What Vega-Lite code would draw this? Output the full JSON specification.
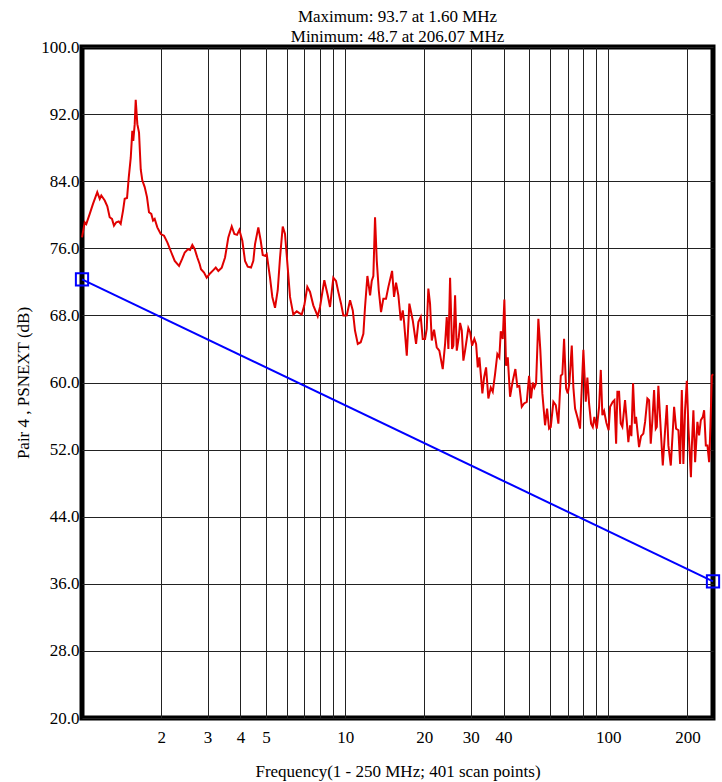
{
  "$schema": "https://vega.github.io/schema/vega-lite/v6.json",
  "width": 631,
  "height": 671,
  "autosize": {"type": "none"},
  "padding": {"left": 82, "top": 47, "right": 9, "bottom": 64},
  "background": "white",
  "config": {"view": {"stroke": "black", "strokeWidth": 5}, "font": "Liberation Serif"},
  "title": {
    "text": ["Maximum: 93.7 at 1.60 MHz", "Minimum: 48.7 at 206.07 MHz"],
    "anchor": "middle",
    "font": "Liberation Serif",
    "fontSize": 17,
    "fontWeight": "normal",
    "lineHeight": 20,
    "offset": -8,
    "color": "black"
  },
  "datasets": {
    "psnext": [
      {"f": 1.00, "db": 77.3}, {"f": 1.024, "db": 79.1}, {"f": 1.038, "db": 78.9}, {"f": 1.070, "db": 80.1},
      {"f": 1.101, "db": 81.3}, {"f": 1.143, "db": 82.7}, {"f": 1.168, "db": 81.9}, {"f": 1.184, "db": 82.3},
      {"f": 1.220, "db": 81.7}, {"f": 1.248, "db": 81.0}, {"f": 1.274, "db": 79.7}, {"f": 1.300, "db": 79.5},
      {"f": 1.323, "db": 78.7}, {"f": 1.350, "db": 79.1}, {"f": 1.379, "db": 79.2}, {"f": 1.403, "db": 78.9},
      {"f": 1.432, "db": 80.5}, {"f": 1.453, "db": 81.9}, {"f": 1.483, "db": 82.0}, {"f": 1.505, "db": 84.4},
      {"f": 1.532, "db": 86.8}, {"f": 1.553, "db": 90.0}, {"f": 1.566, "db": 88.8}, {"f": 1.586, "db": 90.8},
      {"f": 1.600, "db": 93.7}, {"f": 1.623, "db": 90.8}, {"f": 1.647, "db": 89.8}, {"f": 1.672, "db": 85.4},
      {"f": 1.695, "db": 84.1}, {"f": 1.731, "db": 83.3}, {"f": 1.766, "db": 82.1}, {"f": 1.797, "db": 80.3},
      {"f": 1.834, "db": 80.1}, {"f": 1.862, "db": 79.3}, {"f": 1.889, "db": 79.5}, {"f": 1.933, "db": 78.5},
      {"f": 1.992, "db": 77.7}, {"f": 2.050, "db": 77.5}, {"f": 2.110, "db": 76.7}, {"f": 2.185, "db": 75.5},
      {"f": 2.251, "db": 74.5}, {"f": 2.338, "db": 73.9}, {"f": 2.400, "db": 74.7}, {"f": 2.457, "db": 75.5},
      {"f": 2.529, "db": 75.9}, {"f": 2.574, "db": 75.8}, {"f": 2.626, "db": 76.4}, {"f": 2.682, "db": 75.9},
      {"f": 2.743, "db": 74.9}, {"f": 2.801, "db": 74.1}, {"f": 2.833, "db": 73.5}, {"f": 2.909, "db": 73.1},
      {"f": 2.978, "db": 72.5}, {"f": 3.066, "db": 73.0}, {"f": 3.156, "db": 73.4}, {"f": 3.223, "db": 73.7},
      {"f": 3.297, "db": 73.3}, {"f": 3.397, "db": 73.7}, {"f": 3.496, "db": 74.9}, {"f": 3.598, "db": 77.3},
      {"f": 3.707, "db": 78.6}, {"f": 3.793, "db": 77.7}, {"f": 3.883, "db": 77.6}, {"f": 3.962, "db": 78.2},
      {"f": 4.067, "db": 76.9}, {"f": 4.164, "db": 74.5}, {"f": 4.264, "db": 73.8}, {"f": 4.389, "db": 73.7},
      {"f": 4.478, "db": 74.5}, {"f": 4.545, "db": 76.5}, {"f": 4.678, "db": 78.5}, {"f": 4.777, "db": 76.9},
      {"f": 4.862, "db": 75.2}, {"f": 4.961, "db": 75.1}, {"f": 5.035, "db": 75.3}, {"f": 5.182, "db": 72.5},
      {"f": 5.288, "db": 70.2}, {"f": 5.414, "db": 68.9}, {"f": 5.544, "db": 71.0}, {"f": 5.657, "db": 74.9},
      {"f": 5.792, "db": 78.6}, {"f": 5.909, "db": 77.7}, {"f": 6.050, "db": 73.7}, {"f": 6.173, "db": 70.2},
      {"f": 6.354, "db": 68.1}, {"f": 6.546, "db": 68.5}, {"f": 6.679, "db": 68.3}, {"f": 6.839, "db": 68.1},
      {"f": 6.996, "db": 69.2}, {"f": 7.182, "db": 71.4}, {"f": 7.354, "db": 70.8}, {"f": 7.569, "db": 69.2},
      {"f": 7.866, "db": 67.9}, {"f": 8.026, "db": 69.0}, {"f": 8.334, "db": 72.2}, {"f": 8.586, "db": 70.4},
      {"f": 8.760, "db": 69.0}, {"f": 9.017, "db": 72.5}, {"f": 9.232, "db": 72.1}, {"f": 9.420, "db": 70.8},
      {"f": 9.648, "db": 69.4}, {"f": 9.844, "db": 68.0}, {"f": 10.14, "db": 68.0}, {"f": 10.44, "db": 69.8},
      {"f": 10.69, "db": 68.6}, {"f": 10.90, "db": 66.2}, {"f": 11.17, "db": 64.6}, {"f": 11.46, "db": 64.8},
      {"f": 11.73, "db": 65.8}, {"f": 11.90, "db": 69.0}, {"f": 12.15, "db": 72.7}, {"f": 12.44, "db": 70.4},
      {"f": 12.62, "db": 72.1}, {"f": 12.80, "db": 72.7}, {"f": 12.99, "db": 79.7}, {"f": 13.19, "db": 74.5},
      {"f": 13.42, "db": 71.0}, {"f": 13.69, "db": 68.4}, {"f": 13.97, "db": 70.0}, {"f": 14.30, "db": 70.0},
      {"f": 14.60, "db": 71.4}, {"f": 15.08, "db": 73.3}, {"f": 15.34, "db": 70.2}, {"f": 15.61, "db": 71.9},
      {"f": 15.93, "db": 70.4}, {"f": 16.27, "db": 67.4}, {"f": 16.56, "db": 68.6}, {"f": 16.75, "db": 67.2},
      {"f": 17.15, "db": 63.2}, {"f": 17.54, "db": 69.4}, {"f": 18.07, "db": 67.4}, {"f": 18.60, "db": 64.6},
      {"f": 18.98, "db": 67.2}, {"f": 19.38, "db": 67.8}, {"f": 19.72, "db": 65.2}, {"f": 20.12, "db": 65.2},
      {"f": 20.42, "db": 66.4}, {"f": 20.71, "db": 71.2}, {"f": 21.02, "db": 69.4}, {"f": 21.34, "db": 65.0},
      {"f": 21.77, "db": 66.3}, {"f": 22.29, "db": 64.2}, {"f": 22.80, "db": 63.8}, {"f": 23.49, "db": 61.6},
      {"f": 23.98, "db": 64.6}, {"f": 24.33, "db": 67.8}, {"f": 24.68, "db": 64.0}, {"f": 25.05, "db": 72.5},
      {"f": 25.49, "db": 64.0}, {"f": 25.78, "db": 64.4}, {"f": 26.17, "db": 70.4}, {"f": 26.56, "db": 63.8},
      {"f": 27.03, "db": 65.4}, {"f": 27.34, "db": 67.1}, {"f": 27.75, "db": 66.2}, {"f": 28.14, "db": 62.6},
      {"f": 28.56, "db": 63.8}, {"f": 28.99, "db": 65.2}, {"f": 29.39, "db": 66.5}, {"f": 29.84, "db": 66.0},
      {"f": 30.36, "db": 64.4}, {"f": 30.98, "db": 65.2}, {"f": 31.45, "db": 64.6}, {"f": 31.92, "db": 61.8},
      {"f": 32.37, "db": 63.0}, {"f": 32.77, "db": 61.0}, {"f": 33.23, "db": 58.7}, {"f": 33.73, "db": 60.6},
      {"f": 34.32, "db": 61.8}, {"f": 35.02, "db": 58.1}, {"f": 35.76, "db": 59.4}, {"f": 36.39, "db": 58.9},
      {"f": 37.13, "db": 61.0}, {"f": 37.88, "db": 63.4}, {"f": 38.55, "db": 63.0}, {"f": 39.03, "db": 66.1},
      {"f": 39.72, "db": 65.2}, {"f": 40.28, "db": 69.9}, {"f": 40.88, "db": 62.0}, {"f": 41.50, "db": 63.0},
      {"f": 42.34, "db": 58.3}, {"f": 43.35, "db": 60.2}, {"f": 44.35, "db": 61.6}, {"f": 45.13, "db": 59.5},
      {"f": 45.93, "db": 59.6}, {"f": 46.90, "db": 57.1}, {"f": 47.86, "db": 57.5}, {"f": 49.00, "db": 57.7},
      {"f": 50.00, "db": 60.8}, {"f": 50.88, "db": 58.1}, {"f": 51.65, "db": 60.0}, {"f": 52.37, "db": 59.4},
      {"f": 53.16, "db": 59.9}, {"f": 54.24, "db": 67.6}, {"f": 55.19, "db": 63.8}, {"f": 56.17, "db": 58.7},
      {"f": 57.51, "db": 54.9}, {"f": 58.53, "db": 56.9}, {"f": 59.57, "db": 54.5}, {"f": 60.46, "db": 54.7},
      {"f": 61.85, "db": 57.7}, {"f": 63.16, "db": 57.3}, {"f": 64.62, "db": 55.1}, {"f": 65.99, "db": 60.8},
      {"f": 66.92, "db": 61.0}, {"f": 67.92, "db": 65.2}, {"f": 69.12, "db": 59.3}, {"f": 70.16, "db": 58.7},
      {"f": 71.14, "db": 59.9}, {"f": 72.65, "db": 64.4}, {"f": 73.68, "db": 59.4}, {"f": 74.78, "db": 56.9},
      {"f": 76.57, "db": 55.7}, {"f": 78.12, "db": 54.5}, {"f": 80.42, "db": 63.9}, {"f": 82.12, "db": 57.7},
      {"f": 83.28, "db": 60.6}, {"f": 84.53, "db": 57.5}, {"f": 86.02, "db": 55.1}, {"f": 87.32, "db": 54.7},
      {"f": 88.55, "db": 55.9}, {"f": 90.43, "db": 54.5}, {"f": 92.27, "db": 57.1}, {"f": 93.65, "db": 61.5},
      {"f": 94.96, "db": 56.1}, {"f": 96.39, "db": 56.6}, {"f": 98.35, "db": 55.2}, {"f": 100.3, "db": 54.3},
      {"f": 101.6, "db": 57.1}, {"f": 104.0, "db": 57.7}, {"f": 105.5, "db": 57.9}, {"f": 107.1, "db": 52.7},
      {"f": 108.3, "db": 58.9}, {"f": 109.9, "db": 58.9}, {"f": 111.5, "db": 55.1}, {"f": 113.1, "db": 54.7},
      {"f": 115.8, "db": 57.9}, {"f": 117.6, "db": 55.3}, {"f": 119.2, "db": 52.9}, {"f": 121.0, "db": 54.9},
      {"f": 122.4, "db": 53.6}, {"f": 124.2, "db": 59.9}, {"f": 126.1, "db": 55.1}, {"f": 127.5, "db": 55.9},
      {"f": 129.0, "db": 54.3}, {"f": 130.9, "db": 52.3}, {"f": 133.2, "db": 53.6}, {"f": 135.9, "db": 53.9},
      {"f": 138.0, "db": 55.3}, {"f": 140.8, "db": 58.1}, {"f": 142.9, "db": 57.9}, {"f": 145.0, "db": 52.7},
      {"f": 147.1, "db": 55.5}, {"f": 149.3, "db": 59.1}, {"f": 151.5, "db": 54.5}, {"f": 152.9, "db": 54.7},
      {"f": 155.0, "db": 59.6}, {"f": 158.3, "db": 54.3}, {"f": 161.1, "db": 50.1}, {"f": 164.4, "db": 54.3},
      {"f": 166.9, "db": 57.3}, {"f": 169.2, "db": 52.5}, {"f": 172.8, "db": 50.1}, {"f": 175.9, "db": 54.3},
      {"f": 177.9, "db": 57.1}, {"f": 181.0, "db": 54.5}, {"f": 184.7, "db": 54.3}, {"f": 187.5, "db": 50.3},
      {"f": 190.3, "db": 59.1}, {"f": 192.9, "db": 50.3}, {"f": 195.8, "db": 56.7}, {"f": 198.8, "db": 60.2},
      {"f": 201.6, "db": 54.7}, {"f": 206.07, "db": 48.7}, {"f": 207.7, "db": 52.3}, {"f": 210.6, "db": 56.7},
      {"f": 213.8, "db": 50.5}, {"f": 218.1, "db": 55.3}, {"f": 221.4, "db": 53.7}, {"f": 224.7, "db": 55.5},
      {"f": 228.7, "db": 55.9}, {"f": 231.3, "db": 56.7}, {"f": 234.8, "db": 52.5}, {"f": 238.1, "db": 52.5},
      {"f": 241.7, "db": 50.5}, {"f": 244.4, "db": 54.7}, {"f": 247.4, "db": 60.8}, {"f": 250, "db": 61.0}
    ],
    "limit": [
      {"f": 1, "db": 72.3},
      {"f": 250, "db": 36.3}
    ]
  },
  "encoding": {
    "x": {
      "field": "f",
      "type": "quantitative",
      "scale": {"type": "log", "domain": [1, 250], "nice": false},
      "axis": {
        "title": "Frequency(1 - 250 MHz; 401 scan points)",
        "values": [2, 3, 4, 5, 6, 7, 8, 9, 10, 20, 30, 40, 50, 60, 70, 80, 90, 100, 200],
        "labelExpr": "indexof([2, 3, 4, 5, 10, 20, 30, 40, 100, 200], datum.value) >= 0 ? '' + datum.value : ''",
        "ticks": false,
        "domain": false,
        "grid": true,
        "gridColor": "#222222",
        "gridWidth": 1,
        "gridOpacity": 1,
        "labelFont": "Liberation Serif",
        "labelFontSize": 17,
        "labelColor": "black",
        "labelPadding": 11,
        "labelOverlap": false,
        "labelFlush": false,
        "titleFont": "Liberation Serif",
        "titleFontSize": 17,
        "titleFontWeight": "normal",
        "titleColor": "black",
        "titleY": 58,
        "titleBaseline": "alphabetic"
      }
    },
    "y": {
      "field": "db",
      "type": "quantitative",
      "scale": {"domain": [20, 100], "nice": false, "zero": false},
      "axis": {
        "title": "Pair 4 , PSNEXT (dB)",
        "values": [20, 28, 36, 44, 52, 60, 68, 76, 84, 92, 100],
        "format": ".1f",
        "ticks": false,
        "domain": false,
        "grid": true,
        "gridColor": "#222222",
        "gridWidth": 1,
        "gridOpacity": 1,
        "labelFont": "Liberation Serif",
        "labelFontSize": 17,
        "labelColor": "black",
        "labelPadding": 3,
        "labelOverlap": false,
        "labelFlush": false,
        "titleFont": "Liberation Serif",
        "titleFontSize": 17,
        "titleFontWeight": "normal",
        "titleColor": "black",
        "titleX": -54,
        "titleY": 335.5,
        "titleAngle": -90,
        "titleAlign": "center",
        "titleBaseline": "alphabetic"
      }
    }
  },
  "layer": [
    {
      "data": {"name": "psnext"},
      "mark": {"type": "line", "color": "#e00000", "strokeWidth": 2}
    },
    {
      "data": {"name": "limit"},
      "mark": {"type": "line", "color": "#0000ff", "strokeWidth": 2}
    },
    {
      "data": {"name": "limit"},
      "mark": {"type": "point", "shape": "square", "filled": false, "color": "#0000ff", "size": 150, "strokeWidth": 2, "opacity": 1, "clip": false}
    }
  ]
}
